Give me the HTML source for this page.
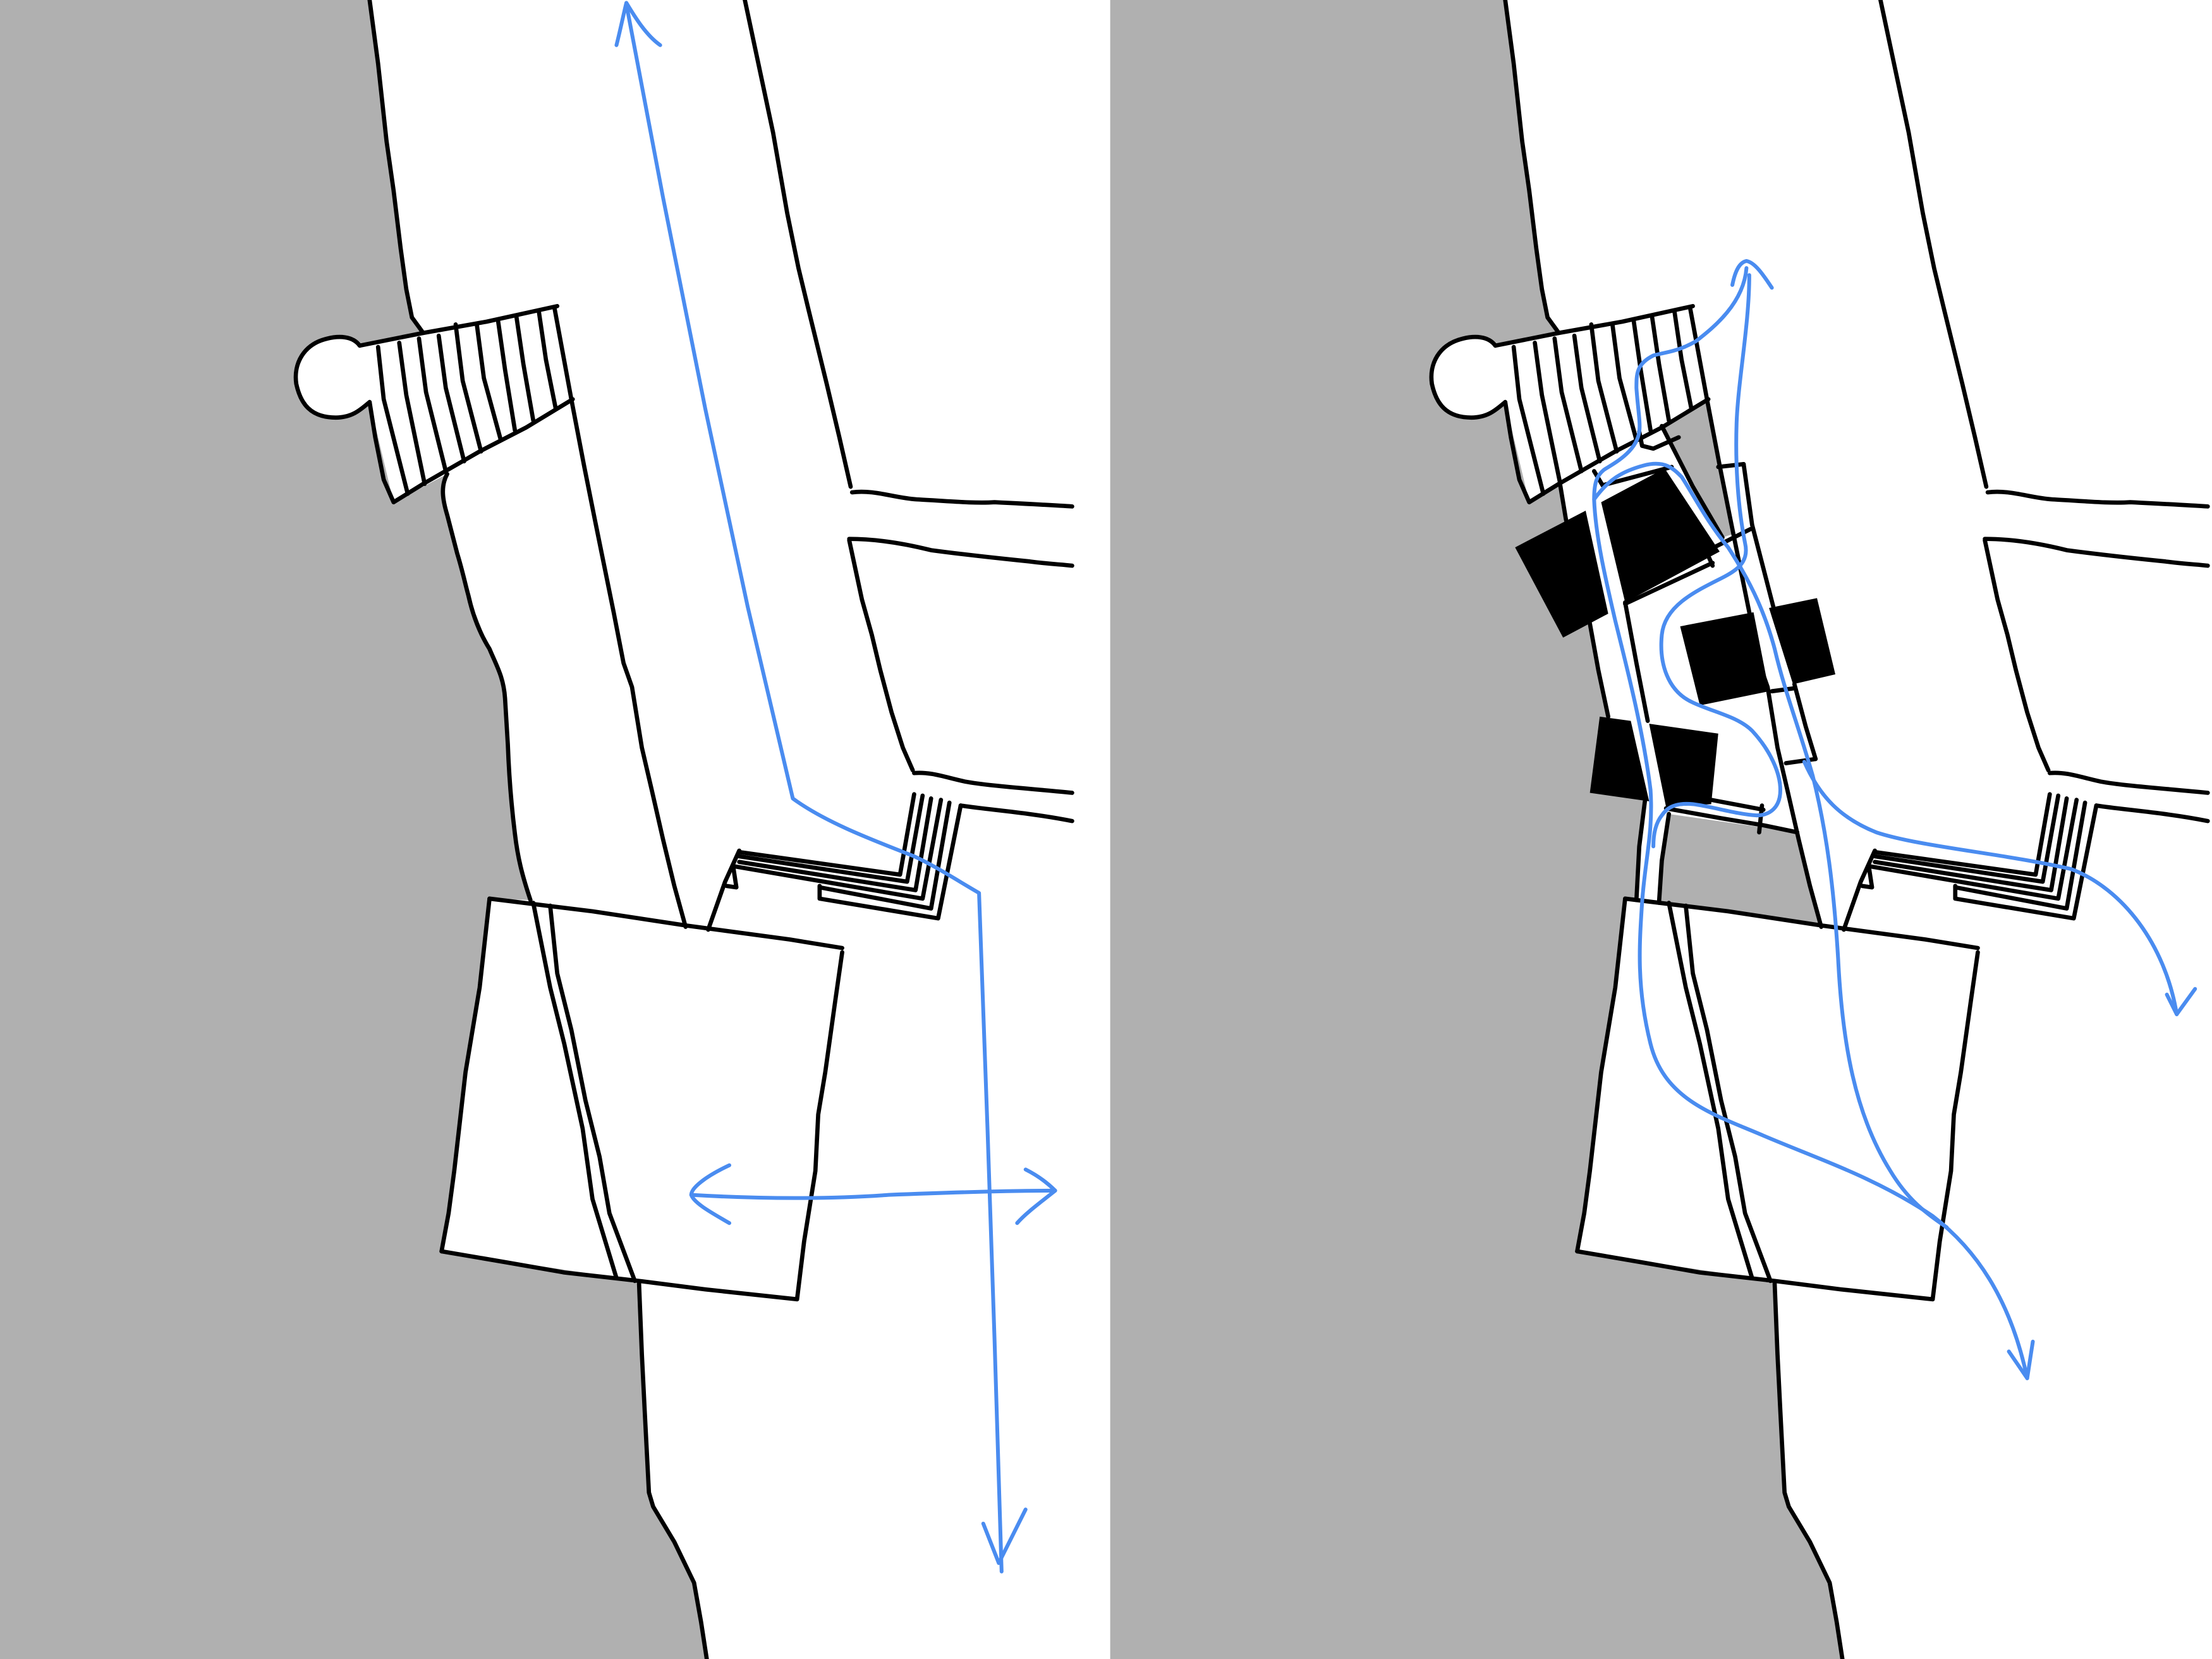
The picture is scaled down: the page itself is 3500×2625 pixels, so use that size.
<!DOCTYPE html>
<html><head><meta charset="utf-8"><style>html,body{margin:0;padding:0;background:#fff}svg{display:block}</style></head>
<body>
<svg xmlns="http://www.w3.org/2000/svg" xmlns:xlink="http://www.w3.org/1999/xlink" width="3500" height="2625" viewBox="0 0 1568 1176">
<defs>
<g id="common" fill="none" stroke="#000" stroke-width="3" stroke-linecap="round" stroke-linejoin="round">
  <path d="M262,0 L268,45 L274,100 L279,135 L284,176 L288,205 L292,225 L300,236"/>
  <path d="M255,245 C250,238 240,238 232,240 C215,244 208,258 210,272 C213,286 220,296 238,296 C250,296 256,290 262,285"/>
  <path d="M255,245 L300,236 L345,228 L395,217"/>
  <path d="M262,285 L266,310 L272,340 L279,356 L300,343 L340,320 L373,303 L406,283"/>
  <path d="M268,246 L272,283 L289,350"/>
  <path d="M283,243 L288,280 L301,343"/>
  <path d="M297,240 L302,278 L316,334"/>
  <path d="M311,238 L316,275 L329,327"/>
  <path d="M323,230 L328,270 L341,320"/>
  <path d="M338,230 L343,268 L355,312"/>
  <path d="M353,227 L358,262 L365,305"/>
  <path d="M366,224 L371,258 L378,298"/>
  <path d="M382,221 L387,255 L394,290"/>
  <path d="M393,218 L405,283 L414,330 L422,370 L435,434 L442,470 L448,487 L455,530 L462,560 L470,595 L478,628 L486,657"/>
  <path d="M528,0 L538,47 L548,94 L558,151 L566,190 L573,219 L586,272 L595,310 L603,345"/>
  <path d="M604,349 C620,347 634,353 650,354 C670,355 690,357 705,356 C725,357 745,358 760,359"/>
  <path d="M602,382 C620,382 640,385 660,390 C690,394 710,396 730,398 C745,400 752,400 760,401"/>
  <path d="M602,383 L611,425 L618,450 L624,475 L632,505 L640,530 L647,546"/>
  <path d="M648,548 C660,547 670,551 684,554 C700,557 730,559 760,562"/>
  <path d="M681,571 C700,574 730,576 760,582"/>
  <path d="M648,563 L638,620 L524,604"/>
  <path d="M654,564 L643,625 L524,607"/>
  <path d="M660,566 L649,631 L524,611"/>
  <path d="M667,567 L654,637 L520,614"/>
  <path d="M673,569 L660,644 L581,629"/>
  <path d="M681,571 L665,651 L581,637 L581,628"/>
  <path d="M524,603 L514,625 L502,659"/>
  <path d="M520,616 L522,629 L515,628"/>
  <path d="M347,637 L420,646 L486,656 L560,666 L597,672"/>
  <path d="M597,675 L592,710 L585,760 L580,790 L578,830 L570,880 L565,921"/>
  <path d="M565,921 L500,914 L453,908 L400,902 L360,895 L313,887"/>
  <path d="M313,887 L318,860 L322,830 L330,760 L340,700 L347,637"/>
  <path d="M378,640 L390,700 L400,740 L413,800 L420,850 L437,906"/>
  <path d="M390,642 L395,690 L405,730 L415,780 L425,820 L432,860 L450,908"/>
  <path d="M453,910 L455,960 L457,1000 L460,1058 L463,1068 L478,1093 L492,1122 L497,1150 L501,1176"/>
</g>
</defs>

<rect x="0" y="0" width="787" height="1176" fill="#b0b0b0"/>
<path fill="#fff" d="M262,0 L787,0 L787,1176 L501,1176 L492,1122 L463,1068 L460,1058 L455,960 L453,908 L313,887 L347,637 L376,638 L370,620 L365,591 L360,528 L357,487 L347,460 L332,422 L324,392 L314,355 L317,336 L279,356 L262,285 C256,290 250,296 238,296 C220,296 213,286 210,272 C208,258 215,244 232,240 C240,238 250,238 255,245 L300,236 L292,225 L284,176 L274,100 Z"/>
<use xlink:href="#common"/>
<path fill="none" stroke="#000" stroke-width="3" stroke-linecap="round" d="M317,336 C312,345 314,355 317,365 L324,392 C328,405 330,415 332,422 C336,440 342,452 347,460 C352,472 357,480 358,495 L360,528 C361,555 363,575 365,591 C367,608 370,620 376,638"/>
<g fill="none" stroke="#4a8cf0" stroke-width="2.7" stroke-linecap="round" stroke-linejoin="round">
  <path d="M444,3 L470,140 L500,290 L530,430 L562,566 C585,583 620,596 648,607 C665,615 680,625 694,633 L700,800 L705,950 L710,1114"/>
  <path d="M437,32 C440,20 442,10 444,2 C450,12 458,25 468,32"/>
  <path d="M697,1080 L708,1108 L727,1070"/>
  <path d="M490,847 C540,850 590,850 630,847 C680,845 720,844 748,844"/>
  <path d="M517,826 C500,834 490,842 490,847 C492,853 505,860 517,867"/>
  <path d="M727,829 C737,834 744,840 748,844 C738,852 727,860 721,867"/>
</g>

<rect x="787" y="0" width="781" height="1176" fill="#b0b0b0"/>
<path fill="#fff" d="M1067,0 L1568,0 L1568,1176 L1306,1176 L1297,1122 L1268,1068 L1265,1058 L1260,960 L1258,908 L1118,887 L1152,637 L1160,638 L1166,568 L1140,508 L1127,442 L1110,368 L1106,344 L1084,356 L1067,285 C1061,290 1055,296 1043,296 C1025,296 1018,286 1015,272 C1013,258 1020,244 1037,240 C1045,238 1055,238 1060,245 L1105,236 L1097,225 L1089,176 L1079,100 Z"/>
<path fill="#b0b0b0" d="M1178,302 L1210,284 L1230,378 L1221,381 Z"/>
<path fill="#b0b0b0" d="M1183,577 L1274,590 L1291,656 L1176,640 Z"/>
<use xlink:href="#common" transform="translate(805,0)"/>
<g fill="none" stroke="#000" stroke-width="3" stroke-linecap="round" stroke-linejoin="round">
  <path d="M1106,344 L1110,368 L1118,400 L1127,442 L1133,475 L1140,508"/>
  <path d="M1166,568 L1162,600 L1160,638"/>
  <path d="M1183,577 L1178,610 L1176,640"/>
  <path d="M1152,427 L1160,470 L1168,511"/>
  <path d="M1181,573 L1220,580 L1250,585 L1274,590"/>
  <path d="M1178,302 L1200,345 L1221,381"/>
  <path d="M1130,334 L1136,344 L1185,331"/>
  <path d="M1162,306 L1164,316 L1172,318 L1190,310"/>
  <path d="M1218,331 L1236,329"/>
  <path d="M1236,329 L1242,372 L1257,430"/>
  <path d="M1215,388 L1241,375"/>
  <path d="M1152,428 L1214,399 M1210,392 L1214,401"/>
  <path d="M1256,490 L1271,488"/>
  <path d="M1272,485 L1280,515 L1287,538"/>
  <path d="M1266,541 L1287,538"/>
  <path d="M1213,567 L1250,574 M1249,571 L1247,590"/>
</g>
<g fill="#000">
  <path d="M1074,388 L1124,362 L1140,435 L1108,452 Z"/>
  <path d="M1135,356 L1180,332 L1219,391 L1152,427 Z"/>
  <path d="M1191,444 L1243,434 L1254,490 L1205,500 Z"/>
  <path d="M1254,431 L1288,424 L1301,478 L1271,485 Z"/>
  <path d="M1134,508 L1156,511 L1169,568 L1127,562 Z"/>
  <path d="M1169,513 L1218,520 L1213,570 L1181,572 Z"/>
</g>
<g fill="none" stroke="#4a8cf0" stroke-width="2.7" stroke-linecap="round" stroke-linejoin="round">
  <path d="M1228,202 C1230,192 1233,186 1238,185 C1244,186 1250,195 1256,204"/>
  <path d="M1238,190 C1236,215 1215,232 1202,242 C1188,250 1178,250 1172,252 C1160,258 1160,265 1160,275 C1161,290 1163,300 1162,306 C1160,320 1145,328 1137,333 C1132,337 1130,342 1130,354 C1131,380 1138,410 1145,440 C1155,480 1165,520 1170,560 C1172,590 1166,610 1164,640 C1162,670 1160,700 1170,740 C1180,780 1215,790 1250,805 C1290,822 1330,835 1370,862 C1400,885 1425,920 1437,977"/>
  <path d="M1424,958 L1437,977 L1441,951"/>
  <path d="M1130,354 C1140,340 1150,334 1165,330 C1180,326 1186,332 1192,338 C1200,350 1210,370 1225,388 C1238,408 1250,430 1258,460 C1265,490 1275,515 1285,550 C1295,590 1300,630 1303,680 C1306,740 1315,790 1340,830 C1352,850 1365,860 1380,870"/>
  <path d="M1279,540 C1290,565 1305,580 1330,590 C1360,600 1420,605 1468,616 C1505,630 1535,670 1543,719"/>
  <path d="M1536,705 L1543,719 L1556,701"/>
  <path d="M1240,195 C1240,230 1232,270 1231,300 C1230,330 1232,360 1237,385 C1240,398 1232,404 1220,410 C1200,420 1180,430 1178,450 C1176,470 1182,490 1200,498 C1215,505 1232,508 1242,518 C1255,532 1262,548 1262,560 C1262,572 1255,578 1245,578 C1230,577 1215,572 1200,570 C1188,569 1182,572 1178,578 C1174,583 1172,590 1172,600"/>
</g>
</svg>
</body></html>
